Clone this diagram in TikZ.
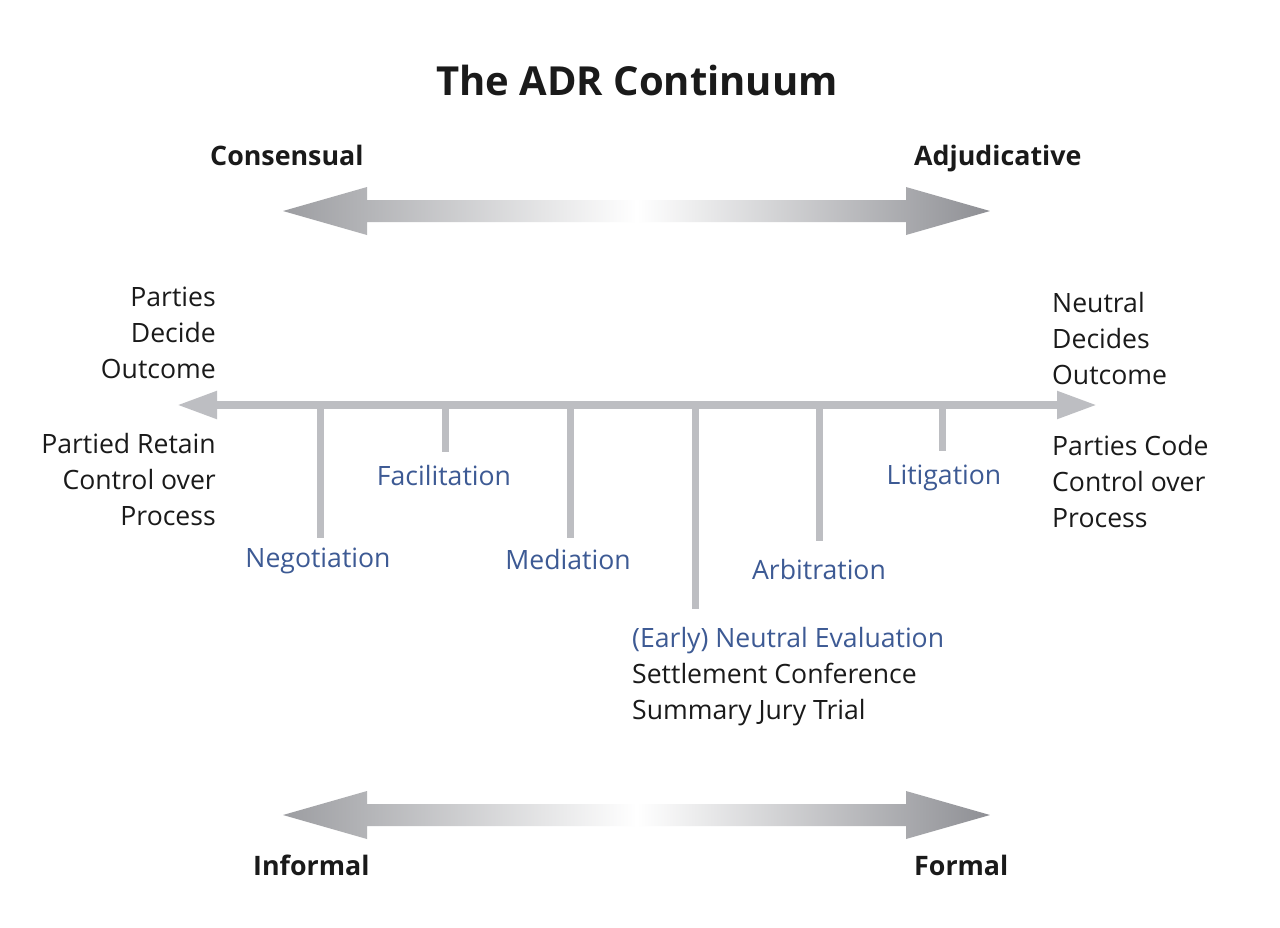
\documentclass[tikz,border=0pt]{standalone}
\usepackage{fontspec}
\setmainfont{Open Sans}
\usetikzlibrary{arrows.meta}
\definecolor{axisgray}{HTML}{BDBEC2}
\definecolor{lblue}{HTML}{3D5A94}
\definecolor{txt}{HTML}{1A1A1A}
\definecolor{shadeL}{HTML}{9C9DA1}
\definecolor{shadeR}{HTML}{8E8F94}
\tikzset{
  body/.style={font=\fontsize{26.6}{36}\selectfont, text=txt, inner sep=0pt},
  method/.style={font=\fontsize{26.6}{36}\selectfont, text=lblue, inner sep=0pt},
  head/.style={font=\fontsize{26.8}{30}\selectfont\bfseries, text=txt, inner sep=0pt},
  tick/.style={draw=axisgray, line width=7pt},
  axis/.style={draw=axisgray, line width=8pt, {Triangle[length=40pt,width=26pt]}-{Triangle[length=40pt,width=26pt]}},
}
\begin{document}
\begin{tikzpicture}[x=1pt,y=-1pt]
\useasboundingbox[fill=white] (0,0) rectangle (1280,927);
% title
\node[font=\fontsize{40}{48}\selectfont\bfseries, text=txt, inner sep=0pt] (title) at (637,80) {The ADR Continuum};
% headings
\node[head, anchor=base west] (cons) at (210,165) {Consensual};
\node[head, anchor=base west] (adj) at (914,165) {Adjudicative};
\node[head, anchor=base west] (inf) at (253,875) {Informal};
\node[head, anchor=base west] (form) at (914,875) {Formal};
% big shaded arrows
\shade[left color=shadeL, right color=shadeR, middle color=white]
  (283,211) -- (367,187) -- (367,200) -- (906,200) -- (906,187) -- (990,211)
  -- (906,235) -- (906,222) -- (367,222) -- (367,235) -- cycle;
\shade[left color=shadeL, right color=shadeR, middle color=white]
  (283,815) -- (367,791) -- (367,804) -- (906,804) -- (906,791) -- (990,815)
  -- (906,839) -- (906,826) -- (367,826) -- (367,839) -- cycle;
% axis
\coordinate (axL) at (177,405);
\coordinate (axR) at (1097,405);
\draw[axis] (axL) -- (axR);
% ticks
\foreach \n/\x/\y in {t1/320/538, t2/445/452, t3/570/538, t4/695/609, t5/819/541, t6/942/451}{
  \coordinate (\n a) at (\x,405);
  \coordinate (\n b) at (\x,\y);
  \draw[tick] (\n a) -- (\n b);
}
% method labels
\node[method, anchor=base] (neg) at (318,567) {Negotiation};
\node[method, anchor=base] (fac) at (444,485) {Facilitation};
\node[method, anchor=base] (med) at (568,569) {Mediation};
\node[method, anchor=base] (arb) at (819,579) {Arbitration};
\node[method, anchor=base] (lit) at (944,484) {Litigation};
\node[method, anchor=base west] (ene) at (632,647) {(Early) Neutral Evaluation};
\node[body, anchor=base west] (sc) at (632,683) {Settlement Conference};
\node[body, anchor=base west] (sjt) at (632,719) {Summary Jury Trial};
% side texts
\node[body, align=right, anchor=east] (pdo) at (216,333) {Parties\\Decide\\Outcome};
\node[body, align=right, anchor=east] (prc) at (216,480) {Partied Retain\\Control over\\Process};
\node[body, align=left, anchor=west] (ndo) at (1052,339) {Neutral\\Decides\\Outcome};
\node[body, align=left, anchor=west] (pcc) at (1052,482) {Parties Code\\Control over\\Process};
\end{tikzpicture}
\end{document}
